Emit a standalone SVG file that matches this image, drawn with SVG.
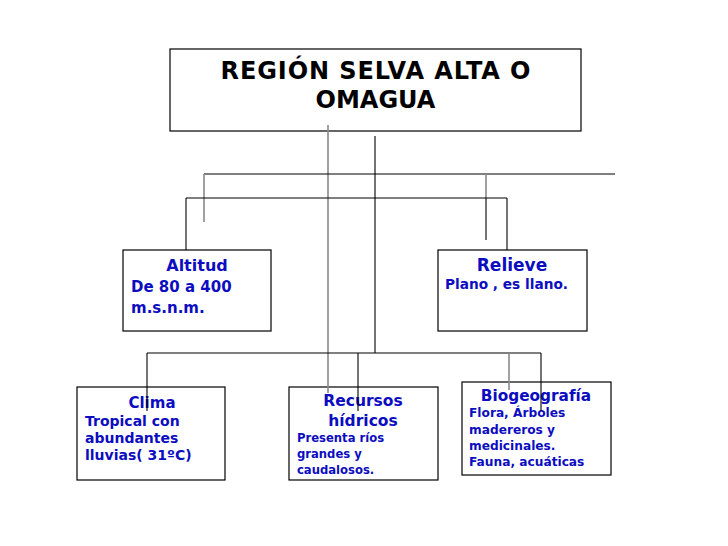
<svg xmlns="http://www.w3.org/2000/svg" width="728" height="546" viewBox="0 0 728 546">
<style>
.box{fill:#fff;stroke:#000;stroke-width:1.2}
.t{font-family:"DejaVu Sans","Liberation Sans",sans-serif;font-weight:bold}
.title{font-size:24px;fill:#000;text-anchor:middle}
.hd{fill:#0c0cc0;text-anchor:middle}
.bd{fill:#0c0cc0}
.k{stroke:#000;stroke-width:1.1;fill:none}
.g{stroke:#8a8a8a;stroke-width:1.6;fill:none}
</style>
<rect width="728" height="546" fill="#fff"/>
<g id="region">
<rect class="box" x="170" y="49" width="411" height="82"/>
<text class="t title" x="375.5" y="79" textLength="310" lengthAdjust="spacing">REGIÓN SELVA ALTA O</text>
<text class="t title" x="375.5" y="108">OMAGUA</text>
</g>
<g id="altitud">
<rect class="box" x="123" y="250" width="148" height="81"/>
<text class="t hd" x="197" y="271" font-size="16">Altitud</text>
<text class="t bd" x="131" y="292" font-size="15">De 80 a 400</text>
<text class="t bd" x="131" y="313" font-size="15">m.s.n.m.</text>
</g>
<g id="relieve">
<rect class="box" x="438" y="250" width="149" height="81"/>
<text class="t hd" x="512" y="271" font-size="17">Relieve</text>
<text class="t bd" x="445" y="289" font-size="13.7">Plano , es llano.</text>
</g>
<g id="clima">
<rect class="box" x="77" y="387" width="148" height="93"/>
<text class="t hd" x="152" y="408" font-size="15">Clima</text>
<text class="t bd" x="85" y="426" font-size="14">Tropical con</text>
<text class="t bd" x="85" y="443" font-size="14">abundantes</text>
<text class="t bd" x="85" y="460" font-size="14">lluvias( 31ºC)</text>
</g>
<g id="recursos">
<rect class="box" x="289" y="387" width="149" height="93"/>
<text class="t hd" x="363" y="406" font-size="15.5">Recursos</text>
<text class="t hd" x="363" y="426" font-size="15.5">hídricos</text>
<text class="t bd" x="297" y="442" font-size="11.6">Presenta ríos</text>
<text class="t bd" x="297" y="458" font-size="11.6">grandes y</text>
<text class="t bd" x="297" y="474" font-size="11.6">caudalosos.</text>
</g>
<g id="biogeografia">
<rect class="box" x="462" y="382" width="149" height="93"/>
<text class="t hd" x="536" y="401" font-size="15.3">Biogeografía</text>
<text class="t bd" x="469" y="417" font-size="12.2">Flora, Árboles</text>
<text class="t bd" x="469" y="434" font-size="12.2">madereros y</text>
<text class="t bd" x="469" y="450" font-size="12.2">medicinales.</text>
<text class="t bd" x="469" y="466" font-size="12.2">Fauna, acuáticas</text>
</g>
<g id="connectors">
<line class="g" x1="328" y1="125" x2="328" y2="393"/>
<line class="k" x1="375" y1="136" x2="375" y2="353"/>
<line class="k" x1="204" y1="174" x2="615" y2="174"/>
<line class="g" x1="204" y1="174" x2="204" y2="222"/>
<line class="g" x1="486" y1="174" x2="486" y2="198"/>
<line class="k" x1="486" y1="198" x2="486" y2="240"/>
<line class="k" x1="186" y1="198" x2="507" y2="198"/>
<line class="k" x1="186" y1="198" x2="186" y2="250"/>
<line class="k" x1="507" y1="198" x2="507" y2="250"/>
<line class="k" x1="147" y1="353" x2="541" y2="353"/>
<line class="k" x1="147" y1="353" x2="147" y2="411" stroke-width="2.2"/>
<line class="k" x1="358" y1="353" x2="358" y2="411"/>
<line class="g" x1="509" y1="354" x2="509" y2="390"/>
<line class="k" x1="541" y1="353" x2="541" y2="411"/>
</g>
</svg>
